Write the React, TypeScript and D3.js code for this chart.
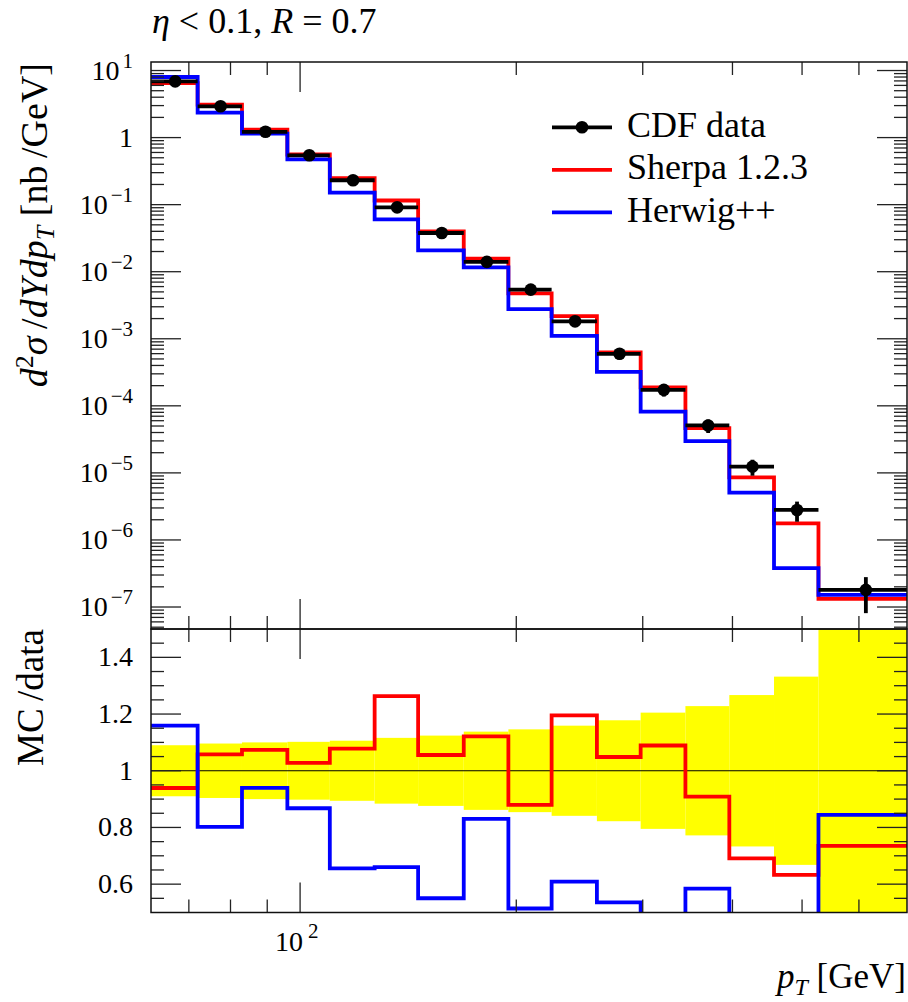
import React from "react";
import * as d3 from "d3";

// CDF inclusive jets, |y| < 0.1, R = 0.7
const binEdges = [62, 72, 83, 96, 110, 127, 146, 169, 195, 224, 259, 298, 344, 396, 457, 527, 700];
const cdfData = [6.9, 2.93, 1.22, 0.544, 0.231, 0.0912, 0.0378, 0.014, 0.0054, 0.00182, 5.97e-4, 1.73e-4, 5.1e-5, 1.24e-5, 2.8e-6, 1.8e-7];
const cdfRelErr = [0.09, 0.096, 0.1, 0.102, 0.106, 0.116, 0.124, 0.138, 0.146, 0.159, 0.178, 0.205, 0.228, 0.267, 0.332, 0.55];
const sherpa = [6.48, 3.1, 1.31, 0.559, 0.249, 0.1152, 0.0399, 0.0157, 0.00475, 0.002175, 6.26e-4, 1.884e-4, 4.636e-5, 8.57e-6, 1.772e-6, 1.323e-7];
const herwig = [8.0, 2.35, 1.146, 0.472, 0.1515, 0.0602, 0.0208, 0.01162, 0.002776, 0.001108, 3.2e-4, 8.22e-5, 2.98e-5, 5.08e-6, 3.81e-7, 1.52e-7];

const seriesNames = ["CDF data", "Sherpa 1.2.3", "Herwig++"];
const seriesColors = ["#000000", "#ff0000", "#0000ff"];

const W = 908;
const H = 1002;
const left = 151;
const right = 907;
const top = 62;
const mid = 629;
const bottom = 912.5;
const FONT = "'Liberation Serif', 'Times New Roman', serif";
const MAJOR = 30;
const MINOR = 13;
const TICK = "#222";

const isPow10 = (t: number) => Math.abs(Math.log10(t) - Math.round(Math.log10(t))) < 1e-6;

export default function App() {
  const x = d3.scaleLog().domain([62, 700]).range([left, right]);
  const y = d3.scaleLog().domain([4.7e-8, 13.4]).range([mid, top]);
  const r = d3.scaleLinear().domain([0.5, 1.5]).range([bottom, mid]);

  const stepPath = (vals: number[], ys: (v: number) => number) =>
    d3.line()(
      vals.flatMap((v, i) => [
        [x(binEdges[i]), ys(v)],
        [x(binEdges[i + 1]), ys(v)],
      ]) as [number, number][]
    ) || "";

  const sherpaRatio = sherpa.map((v, i) => v / cdfData[i]);
  const herwigRatio = herwig.map((v, i) => v / cdfData[i]);

  const yTicks = y.ticks(20);
  const xTicks = x.ticks().filter((t) => t < 700);
  const rTicks = r.ticks(20).filter((t) => t > 0.5 && t < 1.5);
  const rMajor = (t: number) => Math.round(t * 100) % 20 === 0;
  const fmt = d3.format("~g");

  const lw = 3.8;

  return (
    <svg
      width={W}
      height={H}
      style={{ position: "absolute", left: 0, top: 0, background: "#fff" }}
      fontFamily={FONT}
    >
      <defs>
        <clipPath id="clipMain">
          <rect x={left} y={top} width={right - left} height={mid - top} />
        </clipPath>
        <clipPath id="clipRatio">
          <rect x={left} y={mid} width={right - left} height={bottom - mid} />
        </clipPath>
      </defs>

      {/* title */}
      <text x={152} y={33} fontSize={36}>
        <tspan fontStyle="italic">η</tspan>
        <tspan>{" < 0.1, "}</tspan>
        <tspan fontStyle="italic">R</tspan>
        <tspan>{" = 0.7"}</tspan>
      </text>

      {/* main panel */}
      <g clipPath="url(#clipMain)">
        <path d={stepPath(sherpa, y)} fill="none" stroke={seriesColors[1]} strokeWidth={lw} />
        <path d={stepPath(herwig, y)} fill="none" stroke={seriesColors[2]} strokeWidth={lw} />
        {cdfData.map((v, i) => {
          const cx = x((binEdges[i] + binEdges[i + 1]) / 2);
          const cy = y(v);
          const e = v * cdfRelErr[i];
          return (
            <g key={i}>
              <line x1={x(binEdges[i])} x2={x(binEdges[i + 1])} y1={cy} y2={cy} stroke="#000" strokeWidth={lw} />
              <line x1={cx} x2={cx} y1={y(v + e)} y2={y(Math.max(v - e, 1e-12))} stroke="#000" strokeWidth={lw} />
              <circle cx={cx} cy={cy} r={6.3} fill="#000" />
            </g>
          );
        })}
      </g>

      {/* ratio panel */}
      <g clipPath="url(#clipRatio)">
        {cdfRelErr.map((e, i) => (
          <rect
            key={i}
            x={x(binEdges[i])}
            width={x(binEdges[i + 1]) - x(binEdges[i])}
            y={r(1 + e)}
            height={r(1 - e) - r(1 + e)}
            fill="#ffff00"
          />
        ))}
        <line x1={left} x2={right} y1={r(1)} y2={r(1)} stroke="#000" strokeWidth={1.2} />
        <path d={stepPath(sherpaRatio, r)} fill="none" stroke={seriesColors[1]} strokeWidth={lw} />
        <path d={stepPath(herwigRatio, r)} fill="none" stroke={seriesColors[2]} strokeWidth={lw} />
      </g>

      {/* y ticks main */}
      {yTicks.map((t, i) => {
        const len = isPow10(t) ? MAJOR : MINOR;
        const yy = y(t);
        return (
          <g key={"ym" + i} stroke={TICK} strokeWidth={1.3}>
            <line x1={left} x2={left + len} y1={yy} y2={yy} />
            <line x1={right} x2={right - len} y1={yy} y2={yy} />
          </g>
        );
      })}
      {yTicks.filter(isPow10).map((t, i) => {
        const p = Math.round(Math.log10(t));
        const yy = y(t);
        if (p === 0)
          return (
            <text key={"yl" + i} x={133} y={yy + 9} fontSize={28} textAnchor="end">
              1
            </text>
          );
        return (
          <text key={"yl" + i} x={133} y={yy + 9} fontSize={28} textAnchor="end">
            <tspan>10</tspan>
            <tspan fontSize={21} dx={3} dy={-12}>
              {p < 0 ? "\u2212" + -p : String(p)}
            </tspan>
          </text>
        );
      })}

      {/* ratio y ticks */}
      {rTicks.map((t, i) => {
        const len = rMajor(t) ? MAJOR : MINOR;
        const yy = r(t);
        return (
          <g key={"yr" + i} stroke={TICK} strokeWidth={1.3}>
            <line x1={left} x2={left + len} y1={yy} y2={yy} />
            <line x1={right} x2={right - len} y1={yy} y2={yy} />
          </g>
        );
      })}
      {rTicks.filter(rMajor).map((t, i) => (
        <text key={"rl" + i} x={133} y={r(t) + 9} fontSize={28} textAnchor="end">
          {fmt(t)}
        </text>
      ))}

      {/* x ticks */}
      {xTicks.map((t, i) => {
        const len = t === 100 ? MAJOR : MINOR;
        const xx = x(t);
        return (
          <g key={"xt" + i} stroke={TICK} strokeWidth={1.3}>
            <line x1={xx} x2={xx} y1={top} y2={top + len} />
            <line x1={xx} x2={xx} y1={mid} y2={mid - len} />
            <line x1={xx} x2={xx} y1={mid} y2={mid + len} />
            <line x1={xx} x2={xx} y1={bottom} y2={bottom - len} />
          </g>
        );
      })}
      {xTicks.filter((t) => t === 100).map((t, i) => (
        <text key={"xl" + i} x={x(t) - 25} y={951} fontSize={28}>
          <tspan>10</tspan>
          <tspan fontSize={21} dx={5} dy={-13}>
            {"2"}
          </tspan>
        </text>
      ))}

      {/* frames */}
      <rect x={left} y={top} width={right - left} height={mid - top} fill="none" stroke="#111" strokeWidth={1.5} />
      <rect x={left} y={mid} width={right - left} height={bottom - mid} fill="none" stroke="#111" strokeWidth={1.5} />

      {/* axis labels */}
      <text transform={`translate(47, 63) rotate(-90)`} textAnchor="end" fontSize={38}>
        <tspan fontStyle="italic">d</tspan>
        <tspan fontSize={26} dy={-14}>2</tspan>
        <tspan fontStyle="italic" dy={14}>σ</tspan>
        <tspan>{"\u2009/"}</tspan>
        <tspan fontStyle="italic">dYdp</tspan>
        <tspan fontStyle="italic" fontSize={26} dy={7}>T</tspan>
        <tspan dy={-7}>{" [nb\u2009/GeV]"}</tspan>
      </text>
      <text transform={`translate(43, 629) rotate(-90)`} textAnchor="end" fontSize={37}>
        {"MC\u2009/data"}
      </text>
      <text x={906} y={988} textAnchor="end" fontSize={35}>
        <tspan fontStyle="italic">p</tspan>
        <tspan fontStyle="italic" fontSize={24} dy={7}>T</tspan>
        <tspan dy={-7}>{" [GeV]"}</tspan>
      </text>

      {/* legend */}
      {seriesNames.map((name, i) => {
        const ly = 127.3 + i * 42.5;
        return (
          <g key={name}>
            <line x1={552} x2={612} y1={ly} y2={ly} stroke={seriesColors[i]} strokeWidth={lw} />
            {i === 0 && <circle cx={582} cy={ly} r={6.3} fill="#000" />}
            <text x={627} y={ly + 9.5} fontSize={36}>
              {name}
            </text>
          </g>
        );
      })}
    </svg>
  );
}
